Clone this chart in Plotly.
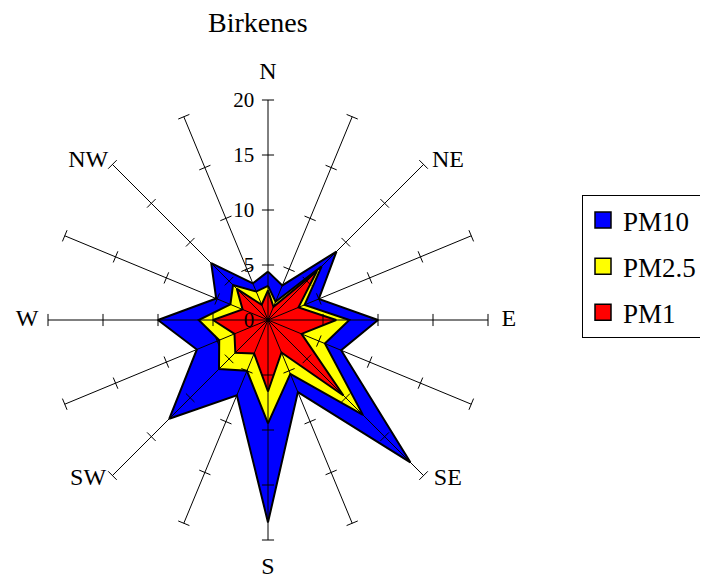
import math
import plotly.graph_objects as go

directions = ["N", "NNE", "NE", "ENE", "E", "ESE", "SE", "SSE",
              "S", "SSW", "SW", "WSW", "W", "WNW", "NW", "NNW"]
pm10 = [4.4, 3.4, 8.8, 5.0, 10.0, 7.2, 18.3, 7.1, 18.4, 7.4, 12.7, 7.0, 10.0, 5.1, 7.3, 3.6]
pm25 = [3.1, 1.8, 6.9, 3.6, 7.4, 5.6, 12.2, 5.3, 9.4, 5.0, 6.3, 4.8, 6.3, 3.7, 4.5, 2.8]
pm1 = [2.7, 1.3, 6.3, 3.0, 6.2, 3.3, 9.7, 3.2, 6.5, 3.3, 4.2, 3.3, 5.0, 2.5, 4.0, 1.5]
labeled_dirs = ["N", "NE", "E", "SE", "S", "SW", "W", "NW"]
radial_ticks = [0, 5, 10, 15, 20]
series_names = ["PM10", "PM2.5", "PM1"]
series_colors = ["#0000FF", "#FFFF00", "#FF0000"]
title_text = "Birkenes"

FONT = "Liberation Serif, Times New Roman, serif"
W, H = 700, 576  # page body has an 8px margin
step = 360.0 / len(directions)
angles = [i * step for i in range(len(directions))]
rmax = radial_ticks[-1]
r_outer = rmax * 1.15          # room for direction labels inside the subplot
PX_PER_UNIT = 11.0
R_PX = r_outer * PX_PER_UNIT
CX, CY = 260, 312               # polar centre in figure pixels

fig = go.Figure()
for name, vals, col in zip(series_names, [pm10, pm25, pm1], series_colors):
    fig.add_trace(go.Scatterpolar(
        r=vals + vals[:1], theta=angles + angles[:1], name=name,
        mode="lines", fill="toself", fillcolor=col,
        line=dict(color="black", width=2),
        legendgroup=name, showlegend=False, hoverinfo="skip",
    ))

# spokes
sr, st = [], []
for a in angles:
    sr += [0, rmax, None]
    st += [a, a, None]
fig.add_trace(go.Scatterpolar(r=sr, theta=st, mode="lines",
                              line=dict(color="black", width=1),
                              showlegend=False, hoverinfo="skip"))
# tick marks across each spoke
h = 0.55
tr, tt = [], []
for a in angles:
    for r in radial_ticks[1:]:
        rr = math.sqrt(r * r + h * h)
        d = math.degrees(math.atan(h / r))
        tr += [rr, rr, None]
        tt += [a - d, a + d, None]
fig.add_trace(go.Scatterpolar(r=tr, theta=tt, mode="lines",
                              line=dict(color="black", width=1),
                              showlegend=False, hoverinfo="skip"))

# direction labels beyond the spoke ends
lab_r, lab_t, lab_txt = [], [], []
for d, a in zip(directions, angles):
    if d not in labeled_dirs:
        continue
    if a % 90 == 0:
        rr = rmax + (2.5 if a % 180 == 0 else 1.9)
        ta = a
    else:
        rr = rmax + 1.8
        # nudge diagonal labels toward the horizontal
        ta = a + (3.6 if (a % 180) < 90 else -3.6)
    lab_r.append(rr)
    lab_t.append(ta)
    lab_txt.append(d)
fig.add_trace(go.Scatterpolar(r=lab_r, theta=lab_t, text=lab_txt, mode="text",
                              textposition="middle center",
                              textfont=dict(family=FONT, size=24, color="black"),
                              showlegend=False, hoverinfo="skip"))

# legend entries (square swatches)
for name, col in zip(series_names, series_colors):
    fig.add_trace(go.Scatterpolar(
        r=[None], theta=[None], name=name, mode="markers",
        marker=dict(symbol="square", size=16, color=col,
                    line=dict(color="black", width=1.5)),
        legendgroup=name, showlegend=True,
    ))

fig.update_layout(
    width=W, height=H,
    margin=dict(l=0, r=0, t=0, b=0),
    paper_bgcolor="white",
    font=dict(family=FONT, color="black", size=20),
    showlegend=True,
    polar=dict(
        domain=dict(x=[(CX - R_PX) / W, (CX + R_PX) / W],
                    y=[(H - CY - R_PX) / H, (H - CY + R_PX) / H]),
        bgcolor="rgba(0,0,0,0)",
        radialaxis=dict(range=[0, r_outer], tickvals=radial_ticks, showgrid=False,
                        showline=False, ticks="outside", ticklen=6,
                        tickcolor="rgba(0,0,0,0)", angle=90,
                        side="counterclockwise", tickangle=90,
                        layer="above traces",
                        tickfont=dict(family=FONT, size=21, color="black")),
        angularaxis=dict(rotation=90, direction="clockwise", tickmode="array",
                         tickvals=angles, showticklabels=False, showgrid=False,
                         showline=False, ticks=""),
    ),
    legend=dict(x=574 / W, y=1 - 187 / H, xanchor="left", yanchor="top",
                bordercolor="black", borderwidth=1, bgcolor="white",
                font=dict(family=FONT, size=27, color="black"),
                tracegroupgap=8),
    annotations=[dict(text=title_text, x=250 / W, y=1 - 14 / H,
                      xref="paper", yref="paper", showarrow=False,
                      xanchor="center", yanchor="middle",
                      font=dict(family=FONT, size=28, color="black"))],
)

fig.write_html("out.html")
